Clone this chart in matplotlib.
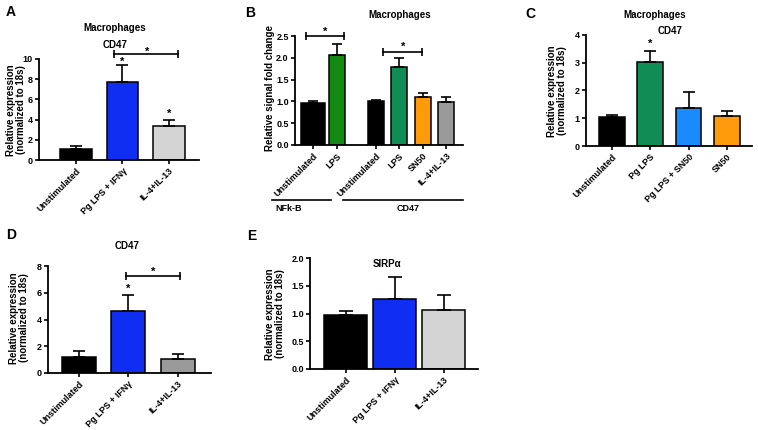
import matplotlib
matplotlib.use('Agg')
import matplotlib.pyplot as plt

plt.rcParams['font.family'] = ['Liberation Sans', 'DejaVu Sans']
plt.rcParams['font.weight'] = 'bold'

# ---------------- data ----------------
a_labels = ['Unstimulated', 'Pg LPS + IFNγ', 'IL-4+IL-13']
a_values = [1.08, 7.72, 3.32]
a_errors = [0.33, 1.66, 0.63]

b_labels = ['Unstimulated', 'LPS', 'Unstimulated', 'LPS', 'SN50', 'IL-4+IL-13']
b_values = [0.97, 2.07, 1.00, 1.78, 1.09, 0.99]
b_errors = [0.05, 0.25, 0.04, 0.21, 0.11, 0.11]

c_labels = ['Unstimulated', 'Pg LPS', 'Pg LPS + SN50', 'SN50']
c_values = [1.03, 3.02, 1.36, 1.09]
c_errors = [0.09, 0.40, 0.60, 0.16]

d_labels = ['Unstimulated', 'Pg LPS + IFNγ', 'IL-4+IL-13']
d_values = [1.18, 4.60, 1.05]
d_errors = [0.48, 1.26, 0.36]

e_labels = ['Unstimulated', 'Pg LPS + IFNγ', 'IL-4+IL-13']
e_values = [0.97, 1.26, 1.07]
e_errors = [0.07, 0.39, 0.26]

# ---------------- style ----------------
BLACK = '#000000'
BLUE = '#0f2ef2'
LGRAY = '#d4d4d4'
GREEN = '#138a13'
TEAL = '#0f8d55'
ORANGE = '#ff9a0a'
SKY = '#1a8cff'
MGRAY = '#9a9a9a'

W, H = 758, 430
fig = plt.figure(figsize=(W / 100, H / 100), dpi=100)


def add_ax(left, right, top, bottom):
    return fig.add_axes([left / W, 1 - bottom / H, (right - left) / W, (bottom - top) / H])


def ftext(x, y, s, **kw):
    fig.text(x / W, 1 - y / H, s, **kw)


def style(ax, xlim, ylim, yticks, labels, ticks, fmt=None):
    ax.set_xlim(*xlim)
    ax.set_ylim(*ylim)
    for s in ['top', 'right']:
        ax.spines[s].set_visible(False)
    for s in ['left', 'bottom']:
        ax.spines[s].set_linewidth(1.3)
    ax.set_yticks(yticks)
    if fmt:
        ax.set_yticklabels([fmt.format(v) for v in yticks])
    ax.set_xticks(ticks)
    ax.set_xticklabels(labels, rotation=45, ha='right', rotation_mode='anchor')
    ax.tick_params(axis='both', labelsize=6.5, width=1.2, length=3, pad=1.5)
    for t in ax.get_xticklabels() + ax.get_yticklabels():
        t.set_fontweight('bold')


def bars(ax, pos, vals, errs, colors, width, capsize):
    ax.bar(pos, vals, width=width, color=colors, edgecolor='black', linewidth=1.1, zorder=2)
    ax.errorbar(pos, vals, yerr=[[0] * len(vals), errs], fmt='none', ecolor='black',
                elinewidth=1.2, capsize=capsize, capthick=1.2, zorder=3)


def bracket(ax, x1, x2, y):
    ax.plot([x1, x2], [y, y], color='black', lw=1.2, marker='|', markersize=6,
            markeredgewidth=1.2, clip_on=False, zorder=4)


def star(ax, x, y):
    ax.text(x, y, '*', ha='center', va='center', fontsize=8, fontweight='bold', clip_on=False)


YLAB = 'Relative expression\n(normalized to 18s)'

# ---------------- Panel A ----------------
axA = add_ax(39, 199, 59, 160)
posA = list(range(len(a_values)))
bars(axA, posA, a_values, a_errors, [BLACK, BLUE, LGRAY], 0.68, 4.5)
style(axA, (-0.8, 2.65), (0, 10), [0, 2, 4, 6, 8, 10], a_labels, posA)
bracket(axA, posA[1] - 0.18, posA[2] + 0.2, 10.5)
star(axA, (posA[1] + posA[2]) / 2 + 0.03, 10.75)
star(axA, posA[1], a_values[1] + a_errors[1] + 0.35)
star(axA, posA[2], a_values[2] + a_errors[2] + 0.6)
ftext(11, 12, 'A', fontsize=10, fontweight='bold', ha='center', va='center')
ftext(115, 28, 'Macrophages', fontsize=7, fontweight='bold', ha='center', va='center')
ftext(115, 45, 'CD47', fontsize=7, fontweight='bold', ha='center', va='center')
ftext(16, 110, YLAB, fontsize=7, fontweight='bold',
      ha='center', va='center', rotation=90, linespacing=1.05)

# ---------------- Panel B ----------------
axB = add_ax(295, 463, 36, 145)
posB = [0, 1.03, 2.69, 3.68, 4.7, 5.7]
bars(axB, posB, b_values, b_errors, [BLACK, GREEN, BLACK, TEAL, ORANGE, MGRAY],
     [1.05, 0.68, 0.72, 0.68, 0.68, 0.68], 3.5)
style(axB, (-0.77, 6.41), (0, 2.5), [0, 0.5, 1.0, 1.5, 2.0, 2.5], b_labels, posB, fmt='{:.1f}')
bracket(axB, posB[0] - 0.3, posB[1] + 0.3, 2.5)
star(axB, (posB[0] + posB[1]) / 2, 2.6)
bracket(axB, posB[3] - 0.68, posB[4] - 0.04, 2.14)
star(axB, (posB[3] + posB[4]) / 2 - 0.35, 2.26)
# group lines beneath the categories
fig.add_artist(plt.Line2D([272 / W, 331 / W], [1 - 200 / H, 1 - 200 / H], color='black', lw=1.2))
fig.add_artist(plt.Line2D([343 / W, 463 / W], [1 - 200 / H, 1 - 200 / H], color='black', lw=1.2))
ftext(275, 209, 'NFk-B', fontsize=6.5, fontweight='bold', ha='left', va='center')
ftext(408, 209, 'CD47', fontsize=6.5, fontweight='bold', ha='center', va='center')
ftext(250, 13, 'B', fontsize=10, fontweight='bold', ha='center', va='center')
ftext(400, 15, 'Macrophages', fontsize=7, fontweight='bold', ha='center', va='center')
ftext(270, 88, 'Relative signal fold change', fontsize=7, fontweight='bold',
      ha='center', va='center', rotation=90)

# ---------------- Panel C ----------------
axC = add_ax(586, 752, 35, 146)
posC = list(range(len(c_values)))
bars(axC, posC, c_values, c_errors, [BLACK, TEAL, SKY, ORANGE], 0.67, 4)
style(axC, (-0.67, 3.65), (0, 4), [0, 1, 2, 3, 4], c_labels, posC)
star(axC, posC[1], c_values[1] + c_errors[1] + 0.25)
ftext(530, 14, 'C', fontsize=10, fontweight='bold', ha='center', va='center')
ftext(655, 15, 'Macrophages', fontsize=7, fontweight='bold', ha='center', va='center')
ftext(670, 31, 'CD47', fontsize=7, fontweight='bold', ha='center', va='center')
ftext(557, 91, YLAB, fontsize=7, fontweight='bold',
      ha='center', va='center', rotation=90, linespacing=1.05)

# ---------------- Panel D ----------------
axD = add_ax(48, 211, 266, 373)
posD = list(range(len(d_values)))
bars(axD, posD, d_values, d_errors, [BLACK, BLUE, MGRAY], 0.69, 4.5)
style(axD, (-0.63, 2.68), (0, 8), [0, 2, 4, 6, 8], d_labels, posD)
bracket(axD, posD[1] - 0.05, posD[2] + 0.05, 7.25)
star(axD, (posD[1] + posD[2]) / 2, 7.6)
star(axD, posD[1], d_values[1] + d_errors[1] + 0.45)
ftext(11, 235, 'D', fontsize=10, fontweight='bold', ha='center', va='center')
ftext(127, 246, 'CD47', fontsize=7, fontweight='bold', ha='center', va='center')
ftext(19, 318, YLAB, fontsize=7, fontweight='bold',
      ha='center', va='center', rotation=90, linespacing=1.05)

# ---------------- Panel E ----------------
axE = add_ax(310, 478, 258, 369)
posE = list(range(len(e_values)))
bars(axE, posE, e_values, e_errors, [BLACK, BLUE, LGRAY], 0.88, 5)
style(axE, (-0.73, 2.7), (0, 2.0), [0, 0.5, 1.0, 1.5, 2.0], e_labels, posE, fmt='{:.1f}')
ftext(252, 236, 'E', fontsize=10, fontweight='bold', ha='center', va='center')
ftext(387, 264, 'SIRPα', fontsize=7, fontweight='bold', ha='center', va='center')
ftext(275, 314, YLAB, fontsize=7, fontweight='bold',
      ha='center', va='center', rotation=90, linespacing=1.05)

fig.savefig('out.png', dpi=100)
